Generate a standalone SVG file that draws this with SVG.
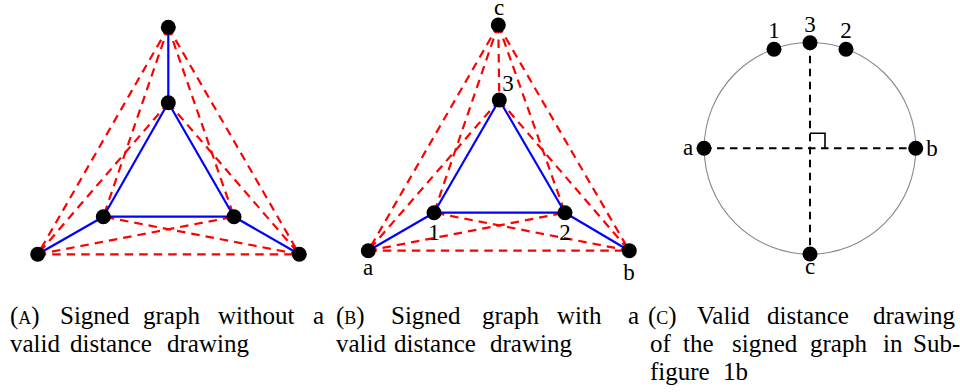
<svg xmlns="http://www.w3.org/2000/svg" width="960" height="392" viewBox="0 0 960 392">
<style>
.pos{stroke:#0000ff;stroke-width:2.2;fill:none}
.neg{stroke:#ff0000;stroke-width:2.2;fill:none;stroke-dasharray:8.5 6}
.blk{stroke:#000;stroke-width:2;fill:none;stroke-dasharray:7.5 5.5}
.dot{fill:#000}
.lbl{font-size:23px;fill:#000;text-anchor:middle}
.cap{font-size:25px;fill:#000}
.sc{font-size:18px}
</style>
<rect width="960" height="392" fill="#fff"/>
<g font-family="'Liberation Serif', 'Times New Roman', 'DejaVu Serif', serif">
<!-- Panel A -->
<g id="edgesA">
<line class="neg" x1="168.3" y1="27.3" x2="37.7" y2="254.3"/>
<line class="neg" x1="168.3" y1="27.3" x2="299.3" y2="254.3"/>
<line class="neg" x1="168.3" y1="27.3" x2="103.3" y2="216.7"/>
<line class="neg" x1="168.3" y1="27.3" x2="234" y2="216.7"/>
<line class="neg" x1="168.3" y1="102.7" x2="37.7" y2="254.3"/>
<line class="neg" x1="168.3" y1="102.7" x2="299.3" y2="254.3"/>
<line class="neg" x1="37.7" y1="254.3" x2="299.3" y2="254.3"/>
<line class="neg" x1="37.7" y1="254.3" x2="234" y2="216.7"/>
<line class="neg" x1="299.3" y1="254.3" x2="103.3" y2="216.7"/>
<line class="pos" x1="168.3" y1="27.3" x2="168.3" y2="102.7"/>
<line class="pos" x1="168.3" y1="102.7" x2="103.3" y2="216.7"/>
<line class="pos" x1="168.3" y1="102.7" x2="234" y2="216.7"/>
<line class="pos" x1="103.3" y1="216.7" x2="234" y2="216.7"/>
<line class="pos" x1="37.7" y1="254.3" x2="103.3" y2="216.7"/>
<line class="pos" x1="299.3" y1="254.3" x2="234" y2="216.7"/>
</g>
<g id="A-top"><circle class="dot" cx="168.3" cy="27.3" r="7.5"/></g>
<g id="A-innertop"><circle class="dot" cx="168.3" cy="102.7" r="7.5"/></g>
<g id="A-innerleft"><circle class="dot" cx="103.3" cy="216.7" r="7.5"/></g>
<g id="A-innerright"><circle class="dot" cx="234" cy="216.7" r="7.5"/></g>
<g id="A-outerleft"><circle class="dot" cx="37.7" cy="254.3" r="7.5"/></g>
<g id="A-outerright"><circle class="dot" cx="299.3" cy="254.3" r="7.5"/></g>
<!-- Panel B -->
<g id="edgesB">
<line class="neg" x1="498.3" y1="25" x2="368.3" y2="250.7"/>
<line class="neg" x1="498.3" y1="25" x2="629.3" y2="250.7"/>
<line class="neg" x1="498.3" y1="25" x2="434" y2="212.7"/>
<line class="neg" x1="498.3" y1="25" x2="565" y2="212.7"/>
<line class="neg" x1="498.3" y1="25" x2="499.3" y2="100"/>
<line class="neg" x1="499.3" y1="100" x2="368.3" y2="250.7"/>
<line class="neg" x1="499.3" y1="100" x2="629.3" y2="250.7"/>
<line class="neg" x1="368.3" y1="250.7" x2="629.3" y2="250.7"/>
<line class="neg" x1="368.3" y1="250.7" x2="565" y2="212.7"/>
<line class="neg" x1="629.3" y1="250.7" x2="434" y2="212.7"/>
<line class="pos" x1="499.3" y1="100" x2="434" y2="212.7"/>
<line class="pos" x1="499.3" y1="100" x2="565" y2="212.7"/>
<line class="pos" x1="434" y1="212.7" x2="565" y2="212.7"/>
<line class="pos" x1="368.3" y1="250.7" x2="434" y2="212.7"/>
<line class="pos" x1="629.3" y1="250.7" x2="565" y2="212.7"/>
</g>
<g id="B-c"><circle class="dot" cx="498.3" cy="25" r="7.5"/><text class="lbl" x="499" y="14.5">c</text></g>
<g id="B-3"><circle class="dot" cx="499.3" cy="100" r="7.5"/><text class="lbl" x="508" y="90.5">3</text></g>
<g id="B-1"><circle class="dot" cx="434" cy="212.7" r="7.5"/><text class="lbl" x="434" y="240">1</text></g>
<g id="B-2"><circle class="dot" cx="565" cy="212.7" r="7.5"/><text class="lbl" x="565" y="240">2</text></g>
<g id="B-a"><circle class="dot" cx="368.3" cy="250.7" r="7.5"/><text class="lbl" x="368" y="275">a</text></g>
<g id="B-b"><circle class="dot" cx="629.3" cy="250.7" r="7.5"/><text class="lbl" x="629" y="280">b</text></g>
<!-- Panel C -->
<circle cx="810" cy="148.3" r="105.8" fill="none" stroke="#888" stroke-width="1.1"/>
<g id="edgesC">
<line class="blk" x1="810" y1="42.7" x2="810" y2="254"/>
<line class="blk" x1="704" y1="148.3" x2="915.7" y2="148.3"/>
<path d="M810,133.3 H825 V148.3" fill="none" stroke="#000" stroke-width="1.6"/>
</g>
<g id="C-1"><circle class="dot" cx="774" cy="49.3" r="7.5"/><text class="lbl" x="774" y="38">1</text></g>
<g id="C-3"><circle class="dot" cx="810" cy="42.7" r="7.5"/><text class="lbl" x="810" y="31.5">3</text></g>
<g id="C-2"><circle class="dot" cx="846" cy="49.3" r="7.5"/><text class="lbl" x="846" y="38">2</text></g>
<g id="C-a"><circle class="dot" cx="704" cy="148.3" r="7.5"/><text class="lbl" x="688" y="155">a</text></g>
<g id="C-b"><circle class="dot" cx="915.7" cy="148.3" r="7.5"/><text class="lbl" x="932" y="155.5">b</text></g>
<g id="C-c"><circle class="dot" cx="810" cy="254" r="7.5"/><text class="lbl" x="810" y="274">c</text></g>
<!-- Captions -->
<text class="cap" y="324"><tspan x="10">(<tspan class="sc">A</tspan>)</tspan><tspan x="60">Signed</tspan><tspan x="143">graph</tspan><tspan x="218">without</tspan><tspan x="313">a</tspan></text>
<text class="cap" y="352"><tspan x="10">valid</tspan><tspan x="70">distance</tspan><tspan x="167">drawing</tspan></text>
<text class="cap" y="324"><tspan x="336">(<tspan class="sc">B</tspan>)</tspan><tspan x="391">Signed</tspan><tspan x="482">graph</tspan><tspan x="557">with</tspan><tspan x="628">a</tspan></text>
<text class="cap" y="352"><tspan x="336">valid</tspan><tspan x="394">distance</tspan><tspan x="490">drawing</tspan></text>
<text class="cap" y="324"><tspan x="648">(<tspan class="sc">C</tspan>)</tspan><tspan x="697">Valid</tspan><tspan x="767">distance</tspan><tspan x="873">drawing</tspan></text>
<text class="cap" y="352"><tspan x="650">of</tspan><tspan x="683">the</tspan><tspan x="732">signed</tspan><tspan x="810">graph</tspan><tspan x="883">in</tspan><tspan x="913">Sub-</tspan></text>
<text class="cap" y="380"><tspan x="650">figure</tspan><tspan x="723">1b</tspan></text>
</g>
</svg>
